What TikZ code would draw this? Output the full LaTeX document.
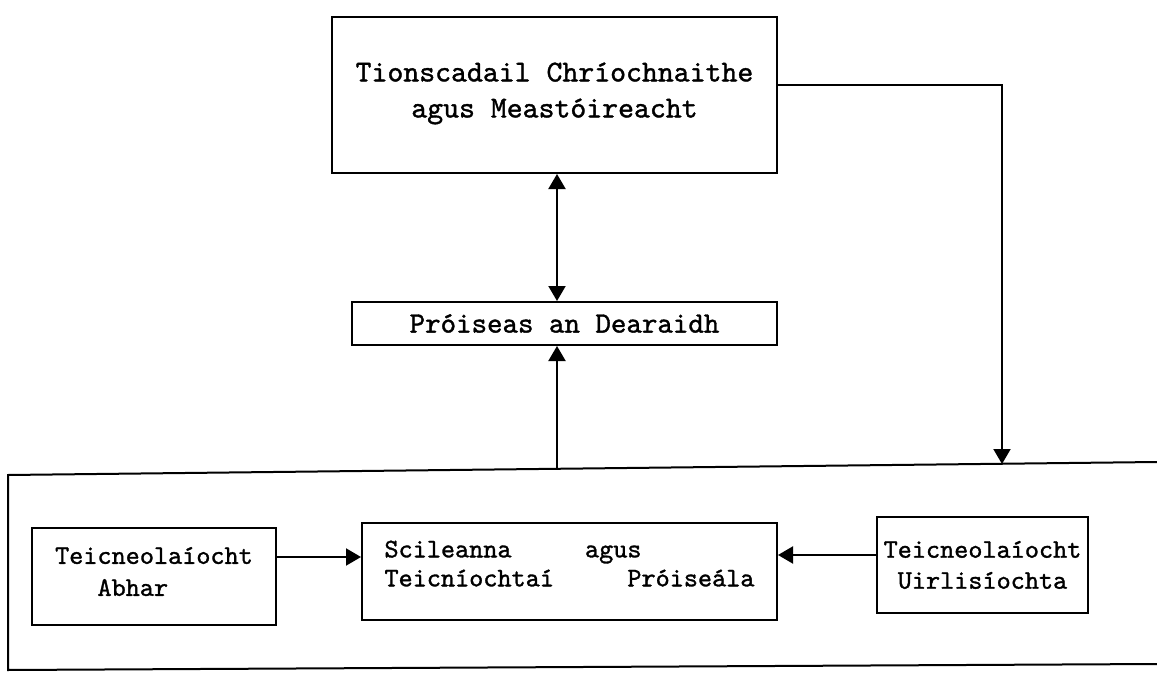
\documentclass[tikz,border=0pt]{standalone}
\usepackage{fontspec}
\newfontfamily\tw{lmmono10-regular.otf}[FakeBold=1.2]
\usetikzlibrary{arrows.meta}
\tikzset{
  box/.style={draw, line width=2pt, rectangle, inner sep=0pt, font=\tw},
  conn/.style={line width=2pt, -{Triangle[width=17pt,length=15pt]}},
  dconn/.style={line width=2pt, {Triangle[width=17pt,length=15pt]}-{Triangle[width=17pt,length=15pt]}},
  frame/.style={line width=2pt}
}
\begin{document}
\begin{tikzpicture}[x=1pt,y=-1pt]
\useasboundingbox (0,0) rectangle (1157,674);
% top box
\node[box, minimum width=445pt, minimum height=156pt, align=center,
      font=\tw\fontsize{30.3}{36}\selectfont] (top) at (554.5,95)
  {Tionscadail Chríochnaithe\\agus Meastóireacht\\[-26pt]};
% middle box
\node[box, minimum width=425pt, minimum height=43pt,
      font=\tw\fontsize{29.5}{32}\selectfont] (mid) at (564.5,323.5)
  {Próiseas an Dearaidh};
% big lower frame (open to the right)
\coordinate (bl) at (8,475);
\coordinate (tr) at (1157,462);
\coordinate (bbl) at (8,670);
\coordinate (bbr) at (1157,664);
\draw[frame] (tr) -- (bl) -- (bbl) -- (bbr);
\coordinate (btop) at (557,469);
\coordinate (rc) at (1002,464);
% lower boxes
\node[box, minimum width=244pt, minimum height=97pt, align=left,
      font=\tw\fontsize{26.9}{32}\selectfont] (abhar) at (154,576.5)
  {Teicneolaíocht\\\phantom{Tei}Abhar\\[-22pt]};
\node[box, minimum width=415pt, minimum height=97pt, align=left,
      font=\tw\fontsize{26.9}{29}\selectfont] (scil) at (569.5,571.5)
  {Scileanna\hspace{2.73em}agus\\Teicníochtaí\hspace{2.73em}Próiseála\\[-13pt]};
\node[box, minimum width=211pt, minimum height=96pt, align=center,
      font=\tw\fontsize{26.9}{31}\selectfont] (uirl) at (982.5,565)
  {Teicneolaíocht\\Uirlisíochta};
% connectors
\draw[dconn] (top.south -| btop) -- (mid.north -| btop);
\draw[conn] (btop) -- (mid.south -| btop);
\draw[conn] ([yshift=10pt]top.east) -| (rc);
\coordinate (ay) at (0,557);
\coordinate (uy) at (0,555);
\draw[conn] (abhar.east |- ay) -- (scil.west |- ay);
\draw[conn] (uirl.west |- uy) -- (scil.east |- uy);
\end{tikzpicture}
\end{document}
